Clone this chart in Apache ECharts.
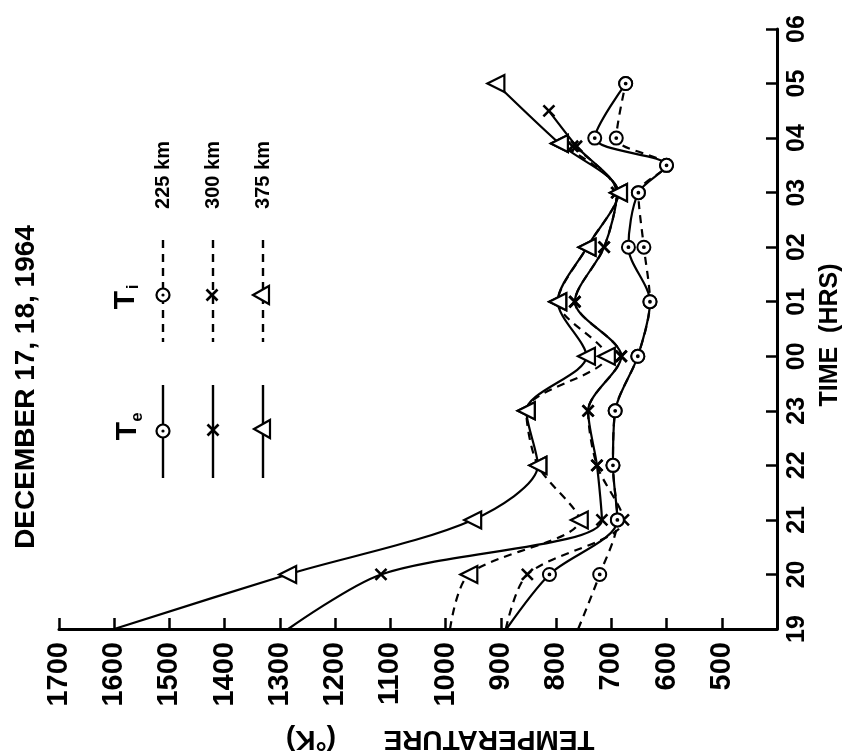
<!DOCTYPE html>
<html><head><meta charset="utf-8">
<script src="https://cdn.jsdelivr.net/npm/echarts@6/dist/echarts.min.js"></script>
<style>html,body{margin:0;padding:0;background:#fff}#c{width:844px;height:754px}</style>
</head><body><div id="c"></div>
<script>
// Time axis: hours after 19h (0 = 19, 11 = 06)
const hourLabels = ['19','20','21','22','23','00','01','02','03','04','05','06'];
const tempMin = 400, tempMax = 1700, tempStep = 100;

// [hour offset, temperature K]
const te225 = [[0,890],[1,812],[2,689],[3,697],[4,693],[5,652],[6,630],[7,669],[8,651],[8.5,600],[9,730],[10,674]];
const ti225 = [[0,760],[1,721],[2,689],[3,697],[4,693],[5,652],[6,630],[7,641],[8,651],[8.5,600],[9,691],[10,674]];
const te300 = [[0,1285],[1,1117],[2,717],[3,726],[4,742],[5,682],[6,766],[7,713],[8,690],[8.85,763],[9.5,813]];
const ti300 = [[0,891],[1,852],[2,678],[3,726],[4,742],[5,682],[6,766],[7,713],[8,690],[8.85,770]];
const te375 = [[0,1600],[1,1286],[2,951],[3,833],[4,854],[5,745],[6,797],[7,744],[8,687],[8.9,794],[10,909]];
const ti375 = [[0,992],[1,958],[2,758],[3,833],[4,854],[5,709],[6,797],[7,744],[8,687],[8.9,794]];

const FONT = "'Liberation Sans', Arial, sans-serif";
const CIRCLE_DOT = 'path://M0,-10A10,10 0 1,1 0,10A10,10 0 1,1 0,-10Z M0,-1.4A1.4,1.4 0 1,1 0,1.4A1.4,1.4 0 1,1 0,-1.4Z';
const CROSS = 'path://M0,0L10,10M0,10L10,0';

function mk(name, pairs, dashed, kind, z) {
  const s = {
    type: 'line', name: name,
    // curves start on the time axis at 19h without a plotted marker
    data: pairs.map((p, i) => i === 0 ? {value: [p[1], p[0]], symbol: 'none'} : [p[1], p[0]]),
    smooth: 0.3,
    showSymbol: true,
    lineStyle: {color: '#000', width: 2.2, type: dashed ? [8, 6] : 'solid'},
    emphasis: {disabled: true},
    animation: false,
    clip: false,
    z: z
  };
  if (kind === 'circle') {
    s.symbol = CIRCLE_DOT; s.symbolSize = 13;
    s.itemStyle = {color: '#fff', borderColor: '#000', borderWidth: 2};
  } else if (kind === 'cross') {
    s.symbol = CROSS; s.symbolSize = 11;
    s.itemStyle = {color: '#000', borderColor: '#000', borderWidth: 2.6};
  } else {
    s.symbol = 'triangle'; s.symbolSize = 17; s.symbolRotate = 90;
    s.itemStyle = {color: '#fff', borderColor: '#000', borderWidth: 2.2};
  }
  return s;
}

function rtext(x, y, text, size, weight, rot) {
  return {type: 'text', x: x, y: y, rotation: rot, silent: true,
    style: {text: text, x: 0, y: 0, align: 'center', verticalAlign: 'middle',
      font: (weight || 'bold') + ' ' + size + 'px ' + FONT, fill: '#000'}};
}
function vline(x, y1, y2, dashed) {
  return {type: 'line', silent: true, shape: {x1: x, y1: y1, x2: x, y2: y2},
    style: {stroke: '#000', lineWidth: 2.4, lineDash: dashed ? [8, 6] : null}};
}
function circleMark(cx, cy) {
  return [
    {type: 'circle', silent: true, shape: {cx: cx, cy: cy, r: 6.5}, style: {fill: '#fff', stroke: '#000', lineWidth: 2.2}},
    {type: 'circle', silent: true, shape: {cx: cx, cy: cy, r: 1.6}, style: {fill: '#000'}}
  ];
}
function crossMark(cx, cy) {
  return [
    {type: 'line', silent: true, shape: {x1: cx-5.5, y1: cy-5.5, x2: cx+5.5, y2: cy+5.5}, style: {stroke: '#000', lineWidth: 2.6}},
    {type: 'line', silent: true, shape: {x1: cx-5.5, y1: cy+5.5, x2: cx+5.5, y2: cy-5.5}, style: {stroke: '#000', lineWidth: 2.6}}
  ];
}
function triMark(cx, cy) {
  return [{type: 'polygon', silent: true, shape: {points: [[cx-9, cy], [cx+7, cy-9], [cx+7, cy+9]]},
    style: {fill: '#fff', stroke: '#000', lineWidth: 2.2}}];
}

const R = Math.PI / 2;
const legendCols = [163, 213, 263];
const legendKm = ['225 km', '300 km', '375 km'];
let g = [];
g.push(rtext(26, 387, 'DECEMBER 17, 18, 1964', 28, 'bold', R));
g.push(rtext(489, 739, 'TEMPERATURE', 28, 'bold', Math.PI));
g.push(rtext(311, 739, '(°K)', 28, 'bold', Math.PI));
g.push(rtext(830, 335, 'TIME  (HRS)', 25, 'bold', R));
// legend headings
g.push(rtext(128, 431, 'T', 30, 'bold', R));
g.push(rtext(137, 417, 'e', 17, 'bold', R));
g.push(rtext(126, 300, 'T', 30, 'bold', R));
g.push(rtext(133, 287, 'i', 17, 'bold', R));
legendCols.forEach((cx, i) => {
  g.push(rtext(cx, 175, legendKm[i], 20, 'bold', R));
  g.push(vline(cx, 385, 478, false));
  g.push(vline(cx, 240, 342, true));
});
g = g.concat(circleMark(163, 431), crossMark(213, 430), triMark(263, 429));
g = g.concat(circleMark(163, 295), crossMark(212, 295), triMark(262, 295));

const chart = echarts.init(document.getElementById('c'));
chart.setOption({
  backgroundColor: '#fff',
  animation: false,
  grid: {left: 59, right: 67, top: 29, bottom: 125, containLabel: false},
  xAxis: {
    type: 'value', inverse: true, min: tempMin, max: tempMax, interval: tempStep,
    position: 'bottom',
    axisLine: {onZero: false, lineStyle: {color: '#000', width: 3}},
    axisTick: {inside: true, length: 11, lineStyle: {color: '#000', width: 2.5}},
    axisLabel: {rotate: 90, margin: 13, color: '#000', fontSize: 29, fontWeight: 'bold', fontFamily: FONT,
      formatter: v => (v === tempMin ? '' : String(v))},
    splitLine: {show: false}
  },
  yAxis: {
    type: 'value', position: 'right', min: 0, max: hourLabels.length - 1, interval: 1,
    axisLine: {onZero: false, lineStyle: {color: '#000', width: 3}},
    axisTick: {inside: true, length: 11, lineStyle: {color: '#000', width: 2.5}},
    axisLabel: {rotate: 90, margin: 8, color: '#000', fontSize: 25, fontWeight: 'bold', fontFamily: FONT,
      formatter: v => hourLabels[Math.round(v)] || ''},
    splitLine: {show: false}
  },
  series: [
    mk('Ti 225 km', ti225, true, 'circle', 2),
    mk('Ti 300 km', ti300, true, 'cross', 2),
    mk('Ti 375 km', ti375, true, 'triangle', 2),
    mk('Te 225 km', te225, false, 'circle', 3),
    mk('Te 300 km', te300, false, 'cross', 3),
    mk('Te 375 km', te375, false, 'triangle', 3)
  ],
  graphic: {elements: g}
});
</script></body></html>
